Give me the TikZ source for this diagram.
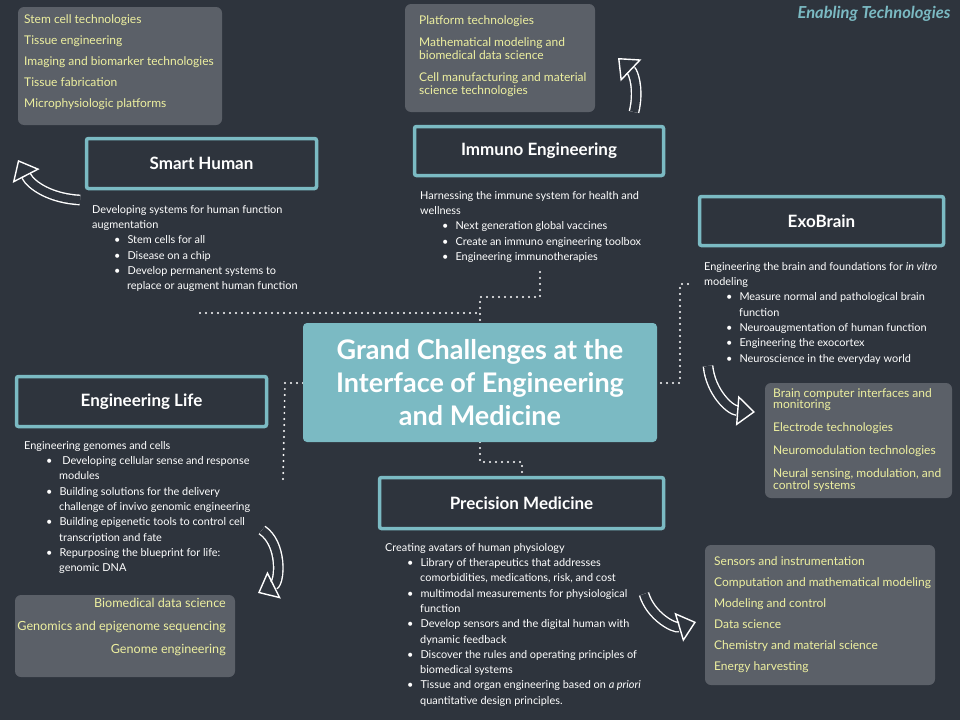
\documentclass[tikz,border=0pt]{standalone}
\usepackage{fontspec}
\setmainfont{Lato}
\usetikzlibrary{arrows.meta}
\definecolor{bgc}{HTML}{2E343D}
\definecolor{teal}{HTML}{7BBAC3}
\definecolor{ylw}{HTML}{EEF0A0}
\definecolor{gbox}{HTML}{60656D}
\tikzset{
 titlebox/.style={draw=teal,line width=3.5pt,fill=bgc,rounded corners=2pt,text=white,font=\fontsize{17}{19}\selectfont\bfseries},
 graybox/.style={fill=gbox,fill opacity=.9,rounded corners=6pt,draw=none},
 ylist/.style={text=ylw,font=\fontsize{12}{21}\selectfont,inner sep=0pt},
 wtext/.style={text=white,font=\fontsize{10.9}{15.3}\selectfont,align=left,anchor=north west,inner sep=0pt},
 dotline/.style={white,line width=2.2pt,dash pattern=on 0pt off 6pt,line cap=round},
 bigarrow/.style={white,line width=1.4pt,double=bgc,double distance=8pt,-{Triangle[open,length=18pt,width=30pt]}}
}
\newcommand{\bul}{\hspace*{22pt}\textbullet\hspace{7pt}}
\newcommand{\cont}{\hspace*{35pt}}
\begin{document}
\begin{tikzpicture}[x=1pt,y=-1pt]
\fill[bgc] (0,0) rectangle (960,720);
\useasboundingbox (0,0) rectangle (960,720);
% gray boxes
\fill[graybox] (18,7) rectangle (222,125);
\node[ylist,align=left,anchor=north west] (gtl) at (24,14) {Stem cell technologies\\Tissue engineering\\Imaging and biomarker technologies\\Tissue fabrication\\Microphysiologic platforms};
\fill[graybox] (405,4) rectangle (595,112);
\node[ylist,align=left,anchor=north west,font=\fontsize{12}{13}\selectfont] (gtm) at (419,15) {Platform technologies\\[9pt]Mathematical modeling and\\biomedical data science\\[9pt]Cell manufacturing and material\\science technologies};
\fill[graybox] (765,383) rectangle (952,498);
\node[ylist,align=left,anchor=north west,font=\fontsize{12}{11}\selectfont] (gr) at (773,388) {Brain computer interfaces and\\monitoring\\[11pt]Electrode technologies\\[11pt]Neuromodulation technologies\\[11pt]Neural sensing, modulation, and\\control systems};
\fill[graybox] (15,595) rectangle (235,677);
\node[ylist,align=right,anchor=north east,font=\fontsize{12.6}{23}\selectfont] (gbl) at (226,598) {Biomedical data science\\Genomics and epigenome sequencing\\Genome engineering};
\fill[graybox] (705,545) rectangle (935,685);
\node[ylist,align=left,anchor=north west] (gbr) at (714,556) {Sensors and instrumentation\\Computation and mathematical modeling\\Modeling and control\\Data science\\Chemistry and material science\\Energy harvesting};
% title
\node[text=teal,font=\fontsize{16.5}{18}\selectfont\bfseries\itshape,anchor=north east] (et) at (954,3) {Enabling Technologies};
% dotted connectors
\coordinate (d1) at (200,313); \coordinate (d2) at (480,313);
\draw[dotline] (d1) -- (d2);
\coordinate (d3) at (540,272); \coordinate (d4) at (480,323);
\draw[dotline] (d3) |- (480,297) -- (d4);
\coordinate (d5) at (688,284); \coordinate (d6) at (657,383);
\draw[dotline] (d5) -- (680,284) -- (680,383) -- (d6);
\coordinate (d7) at (303,383); \coordinate (d8) at (283,482);
\draw[dotline] (d7) -- (285,383) -- (d8);
\coordinate (d9) at (480,442); \coordinate (d10) at (522,476);
\draw[dotline] (d9) -- (480,462) -- (522,462) -- (d10);
% center
\node[fill=teal,rounded corners=4pt,minimum width=354pt,minimum height=119pt,text=white,font=\fontsize{27}{33}\selectfont\bfseries,align=center] (gc) at (480,382.5) {Grand Challenges at the\\Interface of Engineering\\and Medicine};
% title boxes
\node[titlebox,minimum width=230pt,minimum height=50pt] (sh) at (201.5,163.5) {Smart Human};
\node[titlebox,minimum width=249pt,minimum height=49pt] (ie) at (539,151) {Immuno Engineering};
\node[titlebox,minimum width=244pt,minimum height=49pt] (eb) at (821.5,221) {ExoBrain};
\node[titlebox,minimum width=250pt,minimum height=50pt] (el) at (141.5,401.5) {Engineering Life};
\node[titlebox,minimum width=284pt,minimum height=51pt] (pm) at (521.5,503) {Precision Medicine};
% texts
\node[wtext] (tsh) at (92,205) {Developing systems for human function\\augmentation\\\bul Stem cells for all\\\bul Disease on a chip\\\bul Develop permanent systems to\\\cont replace or augment human function};
\node[wtext] (tie) at (420,191) {Harnessing the immune system for health and\\wellness\\\bul Next generation global vaccines\\\bul Create an immuno engineering toolbox\\\bul Engineering immunotherapies};
\node[wtext] (teb) at (704,262) {Engineering the brain and foundations for \textit{in vitro}\\modeling\\\bul Measure normal and pathological brain\\\cont function\\\bul Neuroaugmentation of human function\\\bul Engineering the exocortex\\\bul Neuroscience in the everyday world};
\node[wtext] (tel) at (24,441) {Engineering genomes and cells\\\bul\ Developing cellular sense and response\\\cont modules\\\bul Building solutions for the delivery\\\cont challenge of invivo genomic engineering\\\bul Building epigenetic tools to control cell\\\cont transcription and fate\\\bul Repurposing the blueprint for life:\\\cont genomic DNA};
\node[wtext] (tpm) at (385,543) {Creating avatars of human physiology\\\bul Library of therapeutics that addresses\\\cont comorbidities, medications, risk, and cost\\\bul multimodal measurements for physiological\\\cont function\\\bul Develop sensors and the digital human with\\\cont dynamic feedback\\\bul Discover the rules and operating principles of\\\cont biomedical systems\\\bul Tissue and organ engineering based on \textit{a priori}\\\cont quantitative design principles.};
% big arrows
\coordinate (a1s) at (80,200); \coordinate (a1e) at (18,160);
\draw[bigarrow] (a1s) to[bend left=30] (a1e);
\coordinate (a2s) at (634,112); \coordinate (a2e) at (618,58);
\draw[bigarrow] (a2s) to[bend right=30] (a2e);
\coordinate (a3s) at (708,366); \coordinate (a3e) at (755,412);
\draw[bigarrow] (a3s) to[bend right=40] (a3e);
\coordinate (a4s) at (262,530); \coordinate (a4e) at (258,593);
\draw[bigarrow] (a4s) to[bend left=60] (a4e);
\coordinate (a5s) at (644,594); \coordinate (a5e) at (696,622);
\draw[bigarrow] (a5s) to[bend right=45] (a5e);
\end{tikzpicture}
\end{document}
